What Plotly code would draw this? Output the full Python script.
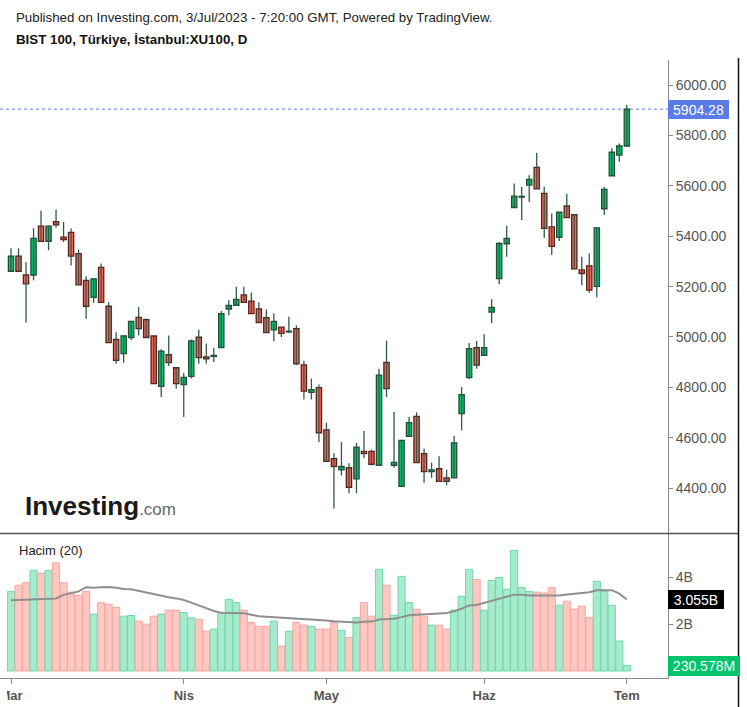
import plotly.graph_objects as go

# ---------------- data ----------------
dates = [
    "2023-03-01", "2023-03-02", "2023-03-03", "2023-03-06", "2023-03-07", "2023-03-08", "2023-03-09",
    "2023-03-10", "2023-03-13", "2023-03-14", "2023-03-15", "2023-03-16", "2023-03-17", "2023-03-20",
    "2023-03-21", "2023-03-22", "2023-03-23", "2023-03-24", "2023-03-27", "2023-03-28", "2023-03-29",
    "2023-03-30", "2023-03-31",
    "2023-04-03", "2023-04-04", "2023-04-05", "2023-04-06", "2023-04-07", "2023-04-10", "2023-04-11",
    "2023-04-12", "2023-04-13", "2023-04-14", "2023-04-17", "2023-04-18", "2023-04-19", "2023-04-20",
    "2023-04-24", "2023-04-25", "2023-04-26", "2023-04-27", "2023-04-28",
    "2023-05-02", "2023-05-03", "2023-05-04", "2023-05-05", "2023-05-08", "2023-05-09", "2023-05-10",
    "2023-05-11", "2023-05-12", "2023-05-15", "2023-05-16", "2023-05-17", "2023-05-18", "2023-05-22",
    "2023-05-23", "2023-05-24", "2023-05-25", "2023-05-26", "2023-05-29", "2023-05-30", "2023-05-31",
    "2023-06-01", "2023-06-02", "2023-06-05", "2023-06-06", "2023-06-07", "2023-06-08", "2023-06-09",
    "2023-06-12", "2023-06-13", "2023-06-14", "2023-06-15", "2023-06-16", "2023-06-19", "2023-06-20",
    "2023-06-21", "2023-06-22", "2023-06-23", "2023-06-26", "2023-06-27",
    "2023-07-03",
]

opens = [
    5261, 5321, 5246, 5246, 5440, 5380, 5458, 5396, 5415, 5331, 5225, 5157, 5276, 5122, 4990, 4934,
    4998, 5078, 5069, 5004, 4804, 4930, 4878, 4811, 4844, 4999, 4921, 4923, 4958, 5111, 5126, 5167,
    5142, 5111, 5077, 5028, 5039, 5020, 5033, 4889, 4780, 4799, 4631, 4517, 4473, 4481, 4437, 4546,
    4546, 4491, 4899, 4491, 4407, 4606, 4685, 4537, 4466, 4477, 4441, 4441, 4696, 4839, 4958, 4927,
    5099, 5232, 5370, 5514, 5555, 5603, 5673, 5570, 5437, 5395, 5520, 5486, 5266, 5282, 5201, 5509,
    5640, 5722, 5758,
]
highs = [
    5352, 5352, 5297, 5432, 5501, 5442, 5506, 5456, 5431, 5347, 5241, 5232, 5292, 5138, 5019, 5007,
    5064, 5119, 5074, 5005, 4951, 5006, 4881, 4857, 4990, 5029, 4974, 4956, 5103, 5146, 5199, 5199,
    5176, 5138, 5109, 5093, 5040, 5080, 5046, 4906, 4835, 4811, 4660, 4539, 4583, 4499, 4580, 4627,
    4553, 4874, 4986, 4702, 4592, 4682, 4701, 4557, 4502, 4527, 4473, 4608, 4801, 4976, 4984, 5011,
    5150, 5377, 5441, 5609, 5596, 5642, 5731, 5596, 5490, 5496, 5567, 5488, 5318, 5331, 5437, 5596,
    5749, 5768, 5921,
]
lows = [
    5258, 5258, 5058, 5225, 5378, 5344, 5435, 5377, 5284, 5206, 5072, 5135, 5136, 4977, 4894, 4898,
    4987, 5006, 4997, 4814, 4762, 4885, 4795, 4682, 4835, 4894, 4894, 4901, 4957, 5086, 5125, 5136,
    5092, 5056, 5016, 4982, 5000, 5017, 4888, 4752, 4752, 4583, 4505, 4319, 4450, 4380, 4380, 4519,
    4490, 4490, 4762, 4481, 4406, 4605, 4500, 4422, 4441, 4424, 4411, 4440, 4629, 4832, 4874, 4926,
    5056, 5209, 5318, 5513, 5464, 5536, 5587, 5393, 5325, 5381, 5473, 5269, 5205, 5176, 5157, 5484,
    5639, 5695, 5757,
]
closes = [
    5321, 5261, 5211, 5391, 5380, 5440, 5445, 5387, 5321, 5207, 5122, 5231, 5137, 4978, 4907, 5004,
    5062, 5033, 4998, 4815, 4944, 4898, 4815, 4840, 4984, 4918, 4913, 4927, 5093, 5125, 5149, 5137,
    5093, 5057, 5017, 5062, 5014, 5023, 4893, 4785, 4791, 4620, 4506, 4486, 4486, 4403, 4563, 4537,
    4495, 4849, 4795, 4502, 4590, 4660, 4501, 4466, 4473, 4427, 4427, 4580, 4771, 4954, 4888, 4958,
    5117, 5371, 5391, 5559, 5558, 5625, 5588, 5431, 5360, 5495, 5474, 5270, 5252, 5186, 5433, 5586,
    5734, 5758, 5904.28,
]
# volume in billions
volume_b = [
    3.40, 3.66, 3.77, 4.30, 4.18, 4.30, 4.62, 3.77, 3.37, 3.23, 3.40, 2.43, 2.92, 2.85, 2.71, 2.34,
    2.37, 2.13, 2.00, 2.34, 2.43, 2.60, 2.60, 2.50, 2.27, 2.21, 1.70, 1.79, 2.50, 3.06, 2.92, 2.60,
    2.07, 1.91, 1.91, 2.13, 1.06, 1.70, 2.07, 1.96, 1.91, 1.79, 1.79, 2.07, 1.74, 1.43, 2.28, 2.92,
    2.34, 4.34, 3.66, 2.38, 4.04, 2.92, 2.64, 2.34, 1.96, 1.96, 1.79, 2.60, 3.19, 4.34, 3.91, 2.60,
    3.87, 3.99, 3.49, 5.15, 3.56, 3.40, 3.37, 3.33, 3.56, 2.81, 2.98, 2.64, 2.77, 2.28, 3.83, 3.42,
    2.81, 1.28, 0.230578,
]
# 20-period volume average, billions
volume_ma_b = [
    3.02, 3.03, 3.04, 3.05, 3.06, 3.08, 3.10, 3.25, 3.32, 3.40, 3.58, 3.55, 3.58, 3.59, 3.55, 3.50,
    3.49, 3.42, 3.36, 3.28, 3.20, 3.15, 3.10, 3.03, 2.92, 2.80, 2.68, 2.56, 2.49, 2.48, 2.48, 2.47,
    2.40, 2.34, 2.32, 2.30, 2.28, 2.27, 2.25, 2.22, 2.21, 2.20, 2.16, 2.12, 2.10, 2.06, 2.07, 2.10,
    2.11, 2.20, 2.21, 2.23, 2.30, 2.38, 2.40, 2.43, 2.44, 2.46, 2.48, 2.55, 2.66, 2.80, 2.82, 2.91,
    3.00, 3.09, 3.16, 3.26, 3.26, 3.22, 3.22, 3.22, 3.22, 3.22, 3.27, 3.31, 3.33, 3.36, 3.45, 3.45,
    3.45, 3.30, 3.055,
]

month_ticks = ["2023-03-01", "2023-04-03", "2023-05-02", "2023-06-01", "2023-07-03"]
month_labels = ["Mar", "Nis", "May", "Haz", "Tem"]
price_ticks = [4400, 4600, 4800, 5000, 5200, 5400, 5600, 5800, 6000]
vol_ticks = [2, 4]
vol_tick_labels = ["2B", "4B"]

last_price = closes[-1]
last_volume = volume_b[-1]
last_ma = volume_ma_b[-1]

# ---------------- styles ----------------
FONT = "Liberation Sans, Arial, sans-serif"
UP_FILL, UP_EDGE = "#0fbf6e", "#1d4f35"
DN_FILL, DN_EDGE = "#f6645a", "#5e1d17"
WICK = "#2e5b46"
VUP_FILL, VUP_EDGE = "#a8eacd", "#6fd9aa"
VDN_FILL, VDN_EDGE = "#fdc7c2", "#f7a8a1"
AX = "#8a8a8a"
TXT = "#555555"

up = [c >= o for o, c in zip(opens, closes)]

# wicks
wx, wy = [], []
for d, h, l in zip(dates, highs, lows):
    wx += [d, d, None]
    wy += [l, h, None]

fig = go.Figure()
fig.add_trace(go.Scatter(x=wx, y=wy, mode="lines", line=dict(color=WICK, width=1.3),
                         hoverinfo="skip", yaxis="y", xaxis="x"))
fig.add_trace(go.Bar(
    x=dates,
    base=[min(o, c) for o, c in zip(opens, closes)],
    y=[max(abs(c - o), 1.0) for o, c in zip(opens, closes)],
    width=0.7,
    marker=dict(color=[UP_FILL if u else DN_FILL for u in up],
                line=dict(color=[UP_EDGE if u else DN_EDGE for u in up], width=1.3)),
    yaxis="y", xaxis="x", hoverinfo="skip",
))
fig.add_trace(go.Bar(
    x=dates, y=volume_b, width=0.95,
    marker=dict(color=[VUP_FILL if u else VDN_FILL for u in up],
                line=dict(color=[VUP_EDGE if u else VDN_EDGE for u in up], width=1)),
    yaxis="y2", xaxis="x", hoverinfo="skip",
))
fig.add_trace(go.Scatter(x=dates, y=volume_ma_b, mode="lines",
                         line=dict(color="#8f8f8f", width=2), yaxis="y2", xaxis="x",
                         hoverinfo="skip"))

# geometry helpers (plot area: x 0..668 px, y 60..678 px)
PW, PH, PT = 668.0, 618.0, 60.0
def px_x(x):
    return x / PW
def px_y(y):
    return (PT + PH - y) / PH

split = px_y(533.5)

fig.update_layout(
    width=747, height=707,
    margin=dict(l=0, r=79, t=60, b=29),
    paper_bgcolor="white", plot_bgcolor="white",
    showlegend=False, barmode="overlay",
    font=dict(family=FONT, color=TXT),
    xaxis=dict(type="category", range=[-1.465, 87.48], anchor="y2",
               showline=True, linecolor=AX, linewidth=1, mirror=False,
               ticks="outside", ticklen=5, tickcolor=AX,
               tickvals=month_ticks, ticktext=month_labels,
               tickfont=dict(size=13, color=TXT, family=FONT, weight="bold"),
               showgrid=False, zeroline=False),
    yaxis=dict(domain=[split, 1], side="right", anchor="x",
               range=[4220.1, 6099.3], tickvals=price_ticks,
               ticktext=[f"{v:.2f}" for v in price_ticks],
               ticks="outside", ticklen=4, tickcolor=AX,
               showline=True, linecolor=AX, linewidth=1,
               showgrid=False, zeroline=False,
               tickfont=dict(size=14, color=TXT, family=FONT)),
    yaxis2=dict(domain=[0, split], side="right", anchor="x",
                range=[-0.298, 5.87], tickvals=vol_ticks, ticktext=vol_tick_labels,
                ticks="outside", ticklen=4, tickcolor=AX,
                showline=True, linecolor=AX, linewidth=1,
                showgrid=False, zeroline=False,
                tickfont=dict(size=14, color=TXT, family=FONT)),
)

shapes = [
    # last price dotted line
    dict(type="line", xref="paper", x0=0, x1=1, yref="y", y0=last_price, y1=last_price,
         line=dict(color="#5b7be8", width=1, dash="dot"), layer="below"),
    # pane separator
    dict(type="line", xref="paper", x0=0, x1=px_x(738.5), yref="paper", y0=split, y1=split,
         line=dict(color="#555555", width=1.5)),
    # right frame border
    dict(type="line", xref="paper", x0=px_x(738.5), x1=px_x(738.5), yref="paper",
         y0=px_y(707), y1=px_y(58), line=dict(color="#111111", width=1.5)),
    # clip of first month label (as in original)
    dict(type="rect", xref="paper", x0=px_x(-2), x1=px_x(7), yref="paper",
         y0=px_y(682), y1=px_y(702), fillcolor="white", line=dict(width=0), layer="above"),
]
fig.update_layout(shapes=shapes)

ann = [
    dict(text="Published on Investing.com, 3/Jul/2023 - 7:20:00 GMT, Powered by TradingView.",
         xref="paper", yref="paper", x=px_x(14), y=px_y(17), xanchor="left", yanchor="middle",
         showarrow=False, font=dict(size=13.3, color="#222222", family=FONT)),
    dict(text="<b>BIST 100, Türkiye, İstanbul:XU100, D</b>",
         xref="paper", yref="paper", x=px_x(14), y=px_y(40), xanchor="left", yanchor="middle",
         showarrow=False, font=dict(size=13.3, color="#111111", family=FONT)),
    dict(text="Hacim (20)", xref="paper", yref="paper", x=px_x(17), y=px_y(550),
         xanchor="left", yanchor="middle", showarrow=False,
         font=dict(size=13, color="#222222", family=FONT)),
    dict(text="<b>Investing</b><span style='font-size:17px;color:#666666'>.com</span>",
         xref="paper", yref="paper", x=px_x(23), y=px_y(506), xanchor="left", yanchor="middle",
         showarrow=False, font=dict(size=26, color="#1a1a1a", family=FONT)),
    dict(text=f"{last_price:.2f}", xref="paper", yref="y", x=1, y=last_price,
         xanchor="left", yanchor="middle", showarrow=False, bgcolor="#5b7be8",
         borderpad=2, borderwidth=0, width=57, height=15, align="center",
         font=dict(size=14, color="white", family=FONT)),
    dict(text=f"{last_ma:.3f}B", xref="paper", yref="y2", x=1, y=last_ma,
         xanchor="left", yanchor="middle", showarrow=False, bgcolor="#000000",
         borderpad=2, borderwidth=0, width=52, height=15, align="center",
         font=dict(size=14, color="white", family=FONT)),
    dict(text=f"{last_volume * 1000:.3f}M", xref="paper", yref="y2", x=1, y=last_volume,
         xanchor="left", yanchor="middle", showarrow=False, bgcolor="#00c46b",
         borderpad=2, borderwidth=0, width=68, height=16, align="center",
         font=dict(size=14, color="white", family=FONT)),
]
fig.update_layout(annotations=ann)

fig.write_html("out.html", config={"displayModeBar": False},
               post_script="document.body.style.margin='0px';")
